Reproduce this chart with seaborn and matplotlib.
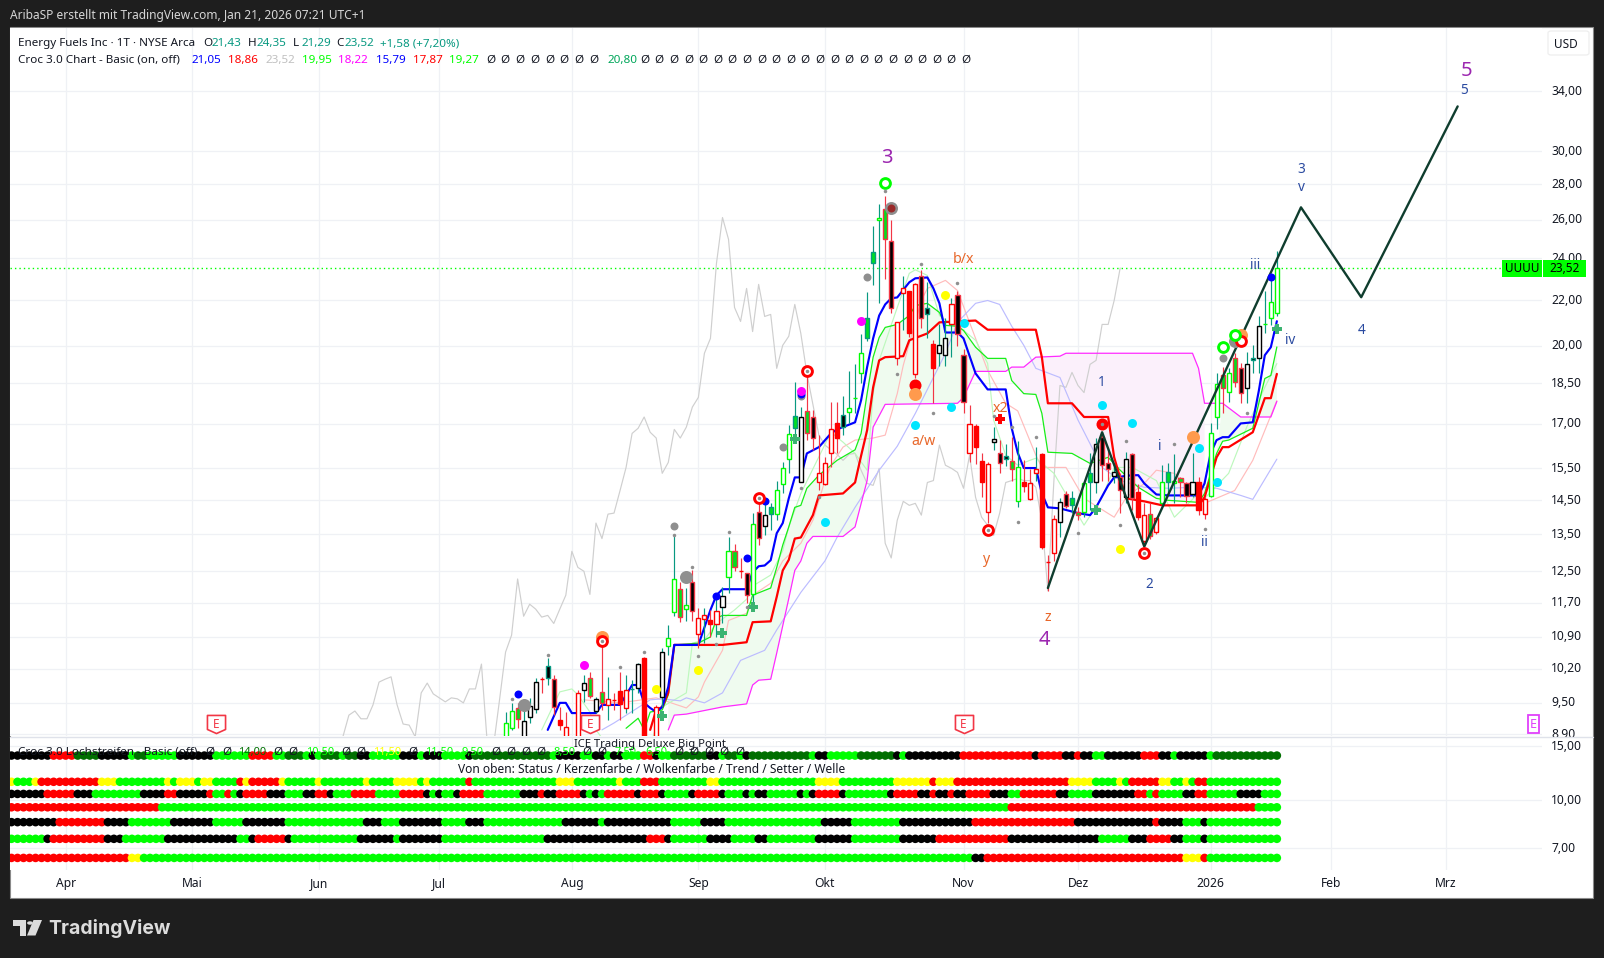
import numpy as np
import pandas as pd
import seaborn as sns
import matplotlib.pyplot as plt
from matplotlib.patches import Rectangle, Polygon, FancyBboxPatch, Circle
from matplotlib.lines import Line2D
from matplotlib.path import Path
from matplotlib.transforms import ScaledTranslation

# --- candles: bar index 0 = 1 Apr 2025 ---
first_bar = 73
body_top = [9.11, 9.34, 9.40, 9.15, 9.44, 9.92, 9.98, 10.26, 9.98, 9.17, 9.04, 8.75, 9.70, 9.90, 10.01, 9.58, 9.72,
            9.58, 9.56, 9.74, 9.76, 9.78, 10.30, 10.43, 8.75, 9.42, 10.56, 10.87, 12.30, 12.04, 11.64, 12.22, 11.33,
            11.40, 11.28, 11.50, 11.87, 13.05, 13.03, 12.50, 12.45, 13.79, 14.15, 14.05, 14.28, 14.82, 15.50, 16.63,
            17.27, 17.24, 17.45, 17.24, 15.33, 15.65, 16.80, 17.01, 17.30, 17.57, 17.95, 19.69, 21.17, 24.30, 26.13,
            26.58, 24.86, 21.00, 22.54, 22.40, 22.73, 23.11, 21.66, 20.06, 20.02, 20.31, 21.80, 22.22, 19.61, 16.98,
            16.91, 15.72, 15.62, 16.46, 15.98, 15.88, 15.72, 15.52, 15.07, 15.01, 15.46, 15.95, 12.75, 13.93, 14.43,
            14.67, 14.55, 14.14, 15.01, 15.33, 16.29, 16.53, 15.65, 15.36, 15.20, 15.79, 15.95, 14.73, 14.05, 14.08,
            13.96, 15.04, 15.36, 15.10, 15.17, 15.01, 15.04, 15.07, 14.52, 16.66, 18.45, 18.80, 18.91, 19.48, 19.08,
            19.24, 19.48, 20.82, 20.91, 21.89, 23.52]
body_bot = [8.80, 9.02, 9.19, 8.80, 9.22, 9.38, 9.98, 10.01, 9.42, 9.07, 8.70, 8.60, 8.80, 9.76, 9.64, 9.34, 9.50,
            9.46, 9.56, 9.48, 9.40, 9.78, 9.80, 8.60, 8.60, 8.80, 9.62, 10.70, 11.48, 11.36, 11.55, 11.50, 10.96,
            11.31, 11.19, 11.19, 11.60, 12.35, 12.60, 12.50, 11.90, 11.91, 13.40, 13.73, 14.08, 14.08, 14.98, 15.80,
            16.84, 15.07, 16.66, 16.50, 15.07, 14.98, 15.98, 16.50, 16.88, 17.42, 17.95, 18.91, 20.31, 23.75, 26.02,
            24.97, 21.66, 19.48, 22.31, 20.56, 18.84, 21.21, 21.35, 19.08, 19.69, 19.61, 20.95, 20.48, 17.77, 15.98,
            16.19, 15.07, 14.14, 16.36, 15.65, 15.80, 15.46, 14.46, 14.92, 14.52, 15.33, 13.15, 12.75, 12.98, 13.85,
            14.31, 14.34, 14.05, 14.14, 15.04, 15.04, 15.59, 15.46, 15.24, 14.82, 14.58, 14.55, 13.99, 13.30, 13.45,
            13.56, 14.40, 15.04, 15.01, 15.07, 14.61, 14.67, 14.20, 14.08, 14.61, 17.24, 18.30, 18.18, 18.53, 18.11,
            18.30, 19.40, 19.48, 20.91, 21.17, 21.43]
wick_high = [9.32, 9.50, 9.50, 9.42, 9.60, 10.00, 10.03, 10.43, 10.07, 9.42, 9.32, 8.80, 9.76, 10.07, 10.13, 9.62,
             10.80, 10.03, 9.70, 10.13, 10.07, 9.96, 10.32, 10.45, 8.80, 9.45, 10.65, 11.17, 13.52, 12.22, 12.07,
             12.52, 11.57, 11.57, 11.52, 11.85, 12.10, 13.42, 13.22, 12.85, 12.45, 14.10, 14.49, 14.40, 14.40, 15.10,
             15.68, 16.95, 18.56, 17.60, 18.88, 17.50, 16.60, 15.85, 17.77, 17.77, 18.03, 18.96, 19.24, 20.48, 22.35,
             25.65, 26.86, 27.31, 26.02, 21.00, 23.11, 22.40, 22.80, 23.40, 22.83, 20.23, 20.91, 21.21, 22.08, 22.40,
             19.85, 17.67, 16.98, 15.98, 15.68, 16.88, 16.43, 16.29, 16.53, 16.39, 15.75, 15.46, 16.19, 16.00, 12.92,
             14.05, 14.55, 14.79, 14.79, 14.28, 15.05, 15.98, 16.50, 16.66, 16.19, 15.52, 15.33, 16.02, 16.00, 15.00,
             14.40, 14.40, 14.00, 15.59, 15.65, 15.95, 15.20, 15.04, 15.98, 15.20, 14.60, 17.01, 18.88, 19.13, 19.09,
             19.69, 19.28, 19.73, 20.02, 21.30, 22.44, 22.92, 24.35]
wick_low = [8.70, 8.98, 9.02, 8.70, 9.11, 9.30, 9.70, 9.86, 9.26, 8.98, 8.60, 8.55, 8.70, 9.52, 9.60, 9.30, 9.36,
            9.17, 9.36, 9.17, 9.30, 9.30, 9.70, 8.55, 8.55, 8.70, 9.42, 10.50, 11.38, 11.24, 11.26, 11.26, 10.65,
            10.76, 10.90, 10.90, 11.21, 11.94, 12.50, 12.33, 11.70, 11.65, 13.20, 13.47, 13.61, 13.90, 14.70, 15.33,
            16.50, 15.04, 16.43, 16.10, 14.80, 14.95, 15.52, 15.98, 16.60, 17.01, 17.37, 18.49, 20.18, 22.68, 21.85,
            22.97, 21.40, 19.20, 20.65, 20.35, 18.70, 20.74, 20.31, 17.74, 19.16, 19.16, 19.53, 19.98, 17.37, 15.68,
            15.62, 14.58, 13.82, 16.10, 15.33, 15.56, 15.10, 14.28, 14.73, 14.49, 15.10, 13.10, 12.00, 12.76, 13.42,
            14.25, 14.11, 13.90, 14.00, 14.20, 14.70, 15.10, 15.10, 15.01, 14.11, 14.40, 14.20, 13.90, 13.19, 13.38,
            13.50, 14.34, 14.70, 14.40, 14.58, 14.40, 14.58, 14.05, 13.95, 14.58, 16.80, 17.37, 17.77, 18.34, 17.74,
            17.74, 18.88, 18.91, 20.52, 20.87, 21.29]
candle_style = ("WWGNNNFTKFRRRNGNGrFFrTNFRRNWWGWKRrFrNWGFKWKNgWW"
                "WgNGKRRRFTWWWggWGKRrFRKTFNNrKKRFFRNKTGWFRrF"
                "FRNKgGWgNKKNKNKFRGRWgWGKNFRWWGWGKNTNWWW")

# --- indicator lines (bar, price) ---
blue_bars = [80, 82, 83, 84, 88, 89, 92, 94, 95, 96, 97, 98, 99, 100, 101, 105, 107, 108, 109, 113, 114, 115, 116, 117,
             118, 119, 120, 121, 122, 123, 125, 127, 128, 131, 132, 133, 134, 135, 136, 137, 138, 140, 141, 143, 144,
             145, 146, 148, 149, 151, 153, 156, 157, 158, 159, 161, 162, 163, 165, 168, 170, 171, 173, 174, 177, 178,
             179, 181, 183, 188, 189, 190, 191, 192, 193, 195, 197, 198, 199, 200, 201]
blue_vals = [8.98, 9.50, 9.50, 9.30, 9.30, 9.46, 9.46, 9.86, 9.86, 9.50, 9.40, 9.32, 9.42, 9.82, 10.72, 10.72, 11.53,
             11.89, 12.04, 12.04, 12.47, 12.63, 12.65, 12.79, 13.53, 13.82, 14.55, 15.20, 15.20, 15.98, 16.19, 16.66,
             16.80, 17.05, 17.85, 19.13, 20.31, 21.30, 21.80, 22.08, 22.12, 22.83, 23.02, 23.06, 22.54, 21.85, 20.56,
             20.56, 20.31, 18.88, 18.26, 18.26, 16.84, 16.00, 15.50, 15.50, 14.70, 14.28, 14.25, 14.11, 14.05, 14.28,
             14.95, 15.20, 15.27, 15.27, 15.01, 14.67, 14.64, 14.64, 15.01, 15.98, 16.43, 16.53, 16.53, 17.01, 17.05,
             18.20, 19.61, 19.94, 21.05]
red_bars = [97, 98, 99, 100, 101, 109, 113, 114, 117, 118, 119, 120, 121, 122, 124, 125, 129, 131, 132, 133, 134, 135,
            136, 139, 140, 143, 145, 151, 153, 161, 162, 163, 167, 169, 173, 174, 176, 179, 182, 188, 189, 191, 192,
            193, 197, 199, 200, 201]
red_vals = [8.98, 9.36, 9.42, 9.70, 10.72, 10.72, 10.78, 11.24, 11.26, 11.85, 12.52, 12.80, 13.38, 13.41, 14.05, 14.64,
            14.70, 15.04, 15.90, 16.77, 18.34, 19.40, 19.53, 19.57, 20.23, 20.52, 21.00, 21.08, 20.68, 20.68, 19.53,
            17.74, 17.74, 17.24, 17.24, 15.85, 14.55, 14.46, 14.34, 14.34, 14.58, 15.85, 16.19, 16.19, 16.70, 17.93,
            17.93, 18.86]
lime_bars = [93, 95, 96, 97, 99, 100, 101, 105, 107, 108, 109, 113, 114, 117, 118, 119, 120, 121, 122, 123, 125, 128,
             131, 132, 133, 134, 135, 136, 138, 140, 141, 143, 145, 146, 148, 149, 151, 153, 156, 157, 159, 161, 162,
             163, 167, 170, 173, 175, 178, 181, 183, 188, 189, 191, 192, 193, 197, 199, 200, 201]
lime_vals = [9.01, 9.20, 8.98, 9.32, 9.36, 9.66, 10.72, 10.76, 10.90, 11.33, 11.40, 11.40, 11.89, 12.07, 12.60, 13.20,
             13.71, 14.28, 14.34, 14.86, 15.27, 15.75, 16.10, 16.66, 18.10, 19.53, 20.35, 20.78, 20.91, 21.30, 21.75,
             21.85, 21.44, 20.87, 20.83, 20.65, 19.94, 19.48, 19.48, 18.60, 18.10, 18.07, 17.37, 16.02, 15.98, 15.65,
             15.85, 15.43, 14.89, 14.55, 14.49, 14.43, 14.70, 15.98, 16.39, 16.43, 16.84, 18.68, 18.80, 19.95]
magenta_bars = [100, 101, 103, 109, 113, 114, 115, 117, 118, 120, 121, 122, 123, 124, 129, 131, 133, 134, 136, 148, 149,
                151, 156, 157, 159, 161, 165, 166, 187, 188, 189, 192, 195, 200, 201]
magenta_vals = [8.98, 9.26, 9.28, 9.42, 9.48, 9.86, 9.96, 9.98, 10.54, 11.81, 12.52, 12.77, 13.25, 13.44, 13.44, 13.71,
                15.10, 16.88, 17.70, 17.74, 17.96, 18.96, 18.96, 19.13, 19.13, 19.53, 19.57, 19.69, 19.69, 19.08, 17.74,
                17.74, 17.24, 17.24, 17.81]
salmon_bars = [86, 92, 98, 103, 105, 106, 109, 110, 113, 114, 117, 119, 122, 124, 126, 127, 129, 131, 134, 136, 138, 139,
               142, 143, 146, 148, 151, 153, 156, 158, 161, 162, 166, 169, 174, 176, 179, 181, 184, 188, 189, 194, 197,
               201]
salmon_vals = [9.56, 9.50, 9.60, 9.40, 9.62, 9.92, 10.60, 11.28, 11.45, 11.89, 12.19, 12.77, 13.25, 13.90, 15.10, 15.59,
               16.19, 16.43, 16.50, 16.60, 18.10, 19.20, 21.98, 22.54, 22.92, 22.44, 20.31, 19.00, 17.74, 17.46, 15.92,
               15.52, 15.52, 14.55, 13.99, 14.58, 15.01, 15.43, 15.33, 14.58, 14.40, 14.79, 15.75, 17.84]
palelime_bars = [79, 82, 84, 85, 87, 88, 90, 97, 99, 103, 104, 106, 108, 111, 113, 114, 117, 119, 120, 122, 127, 129, 131,
                 133, 134, 135, 138, 140, 141, 143, 145, 147, 148, 151, 153, 154, 156, 158, 160, 161, 164, 169, 172, 174,
                 177, 181, 184, 188, 189, 193, 196, 199, 201]
palelime_vals = [8.98, 9.72, 9.78, 9.66, 9.32, 8.98, 8.68, 8.68, 9.42, 9.70, 10.76, 10.83, 11.21, 11.53, 11.79, 12.12,
                 12.40, 13.05, 13.71, 14.70, 16.70, 16.36, 15.98, 15.43, 18.10, 19.40, 21.66, 23.26, 23.43, 23.16, 21.30,
                 20.91, 20.87, 20.23, 19.28, 17.13, 15.92, 15.59, 15.75, 15.82, 15.33, 13.76, 14.58, 15.52, 15.52, 15.10,
                 13.99, 14.70, 14.55, 15.33, 16.88, 18.34, 19.27]
paleblue_bars = [89, 91, 97, 99, 102, 103, 106, 109, 112, 116, 118, 122, 126, 128, 131, 135, 138, 141, 144, 146, 148, 151,
                 153, 155, 157, 159, 161, 165, 168, 172, 175, 179, 183, 187, 191, 195, 197, 201]
paleblue_vals = [8.98, 9.11, 9.56, 9.58, 9.54, 9.60, 9.50, 9.70, 10.38, 10.60, 11.06, 11.96, 12.77, 13.41, 14.28, 15.43,
                 16.22, 17.37, 18.72, 19.69, 21.00, 21.85, 21.98, 21.80, 20.83, 20.02, 19.08, 18.72, 17.13, 15.52, 15.10,
                 14.89, 14.86, 14.89, 14.86, 14.64, 14.52, 15.79]
grey_bars = list(range(46, 176))
grey_vals = [8.85, 9.26, 9.34, 9.19, 9.19, 9.46, 9.92, 9.98, 10.03, 9.46, 9.09, 9.07, 8.85, 9.70, 9.90, 9.68, 9.60, 9.52,
             9.60, 9.58, 9.50, 9.78, 9.78, 10.30, 8.68, 8.68, 9.56, 10.56, 10.94, 12.30, 11.38, 11.67, 11.55, 11.36, 11.40,
             11.21, 11.55, 11.89, 13.03, 12.60, 12.50, 11.91, 13.82, 13.38, 14.08, 14.11, 14.79, 15.52, 16.66, 16.84,
             17.24, 16.70, 16.50, 15.33, 15.68, 16.80, 16.50, 16.88, 17.60, 17.96, 19.69, 20.31, 23.75, 26.13, 24.97,
             21.66, 21.04, 22.54, 20.60, 22.73, 21.26, 21.35, 19.08, 20.02, 20.40, 21.80, 20.52, 18.88, 17.70, 16.60,
             16.26, 16.10, 15.95, 15.75, 15.95, 15.98, 15.43, 15.01, 14.95, 15.49, 13.25, 12.85, 13.90, 14.46, 14.34,
             14.40, 14.05, 15.04, 15.10, 16.26, 15.59, 15.49, 15.36, 14.86, 15.92, 14.58, 13.99, 13.76, 13.47, 14.11,
             15.04, 15.10, 15.17, 15.10, 15.10, 14.89, 13.90, 12.00, 15.10, 18.41, 18.34, 18.92, 18.41, 18.14, 19.24,
             19.40, 20.91, 20.91, 21.98, 23.52]
wave_bars = [163, 172, 179, 205, 215, 231]
wave_vals = [12.07, 16.70, 13.16, 26.69, 22.13, 32.94]
last_price = 23.52

# --- signal dots (bar, price) ---
cyan_bars, cyan_vals = [126, 141, 147, 149, 172, 177, 188, 191], [13.85, 16.95, 17.60, 20.98, 17.67, 17.01, 16.16, 15.04]
yellow_bars, yellow_vals = [98, 105, 146, 175], [9.78, 10.17, 22.22, 13.10]
blue_dot_bars, blue_dot_vals = [75, 108, 113, 116, 122, 200], [9.68, 11.87, 12.84, 14.46, 18.10, 23.07]
magenta_dot_bars, magenta_dot_vals = [86, 132, 122], [10.28, 21.08, 18.20]
grey_big_bars, grey_big_vals = [76, 103, 137, 194], [9.46, 12.34, 26.63, 20.18]
grey_mid_bars, grey_mid_vals = [101, 119, 133, 122, 192], [13.73, 16.19, 23.06, 18.03, 19.48]
orange_bars, orange_vals = [89, 141, 187, 195], [10.90, 18.10, 16.53, 20.44]
red_solid_bars, red_solid_vals = [172, 141], [16.98, 18.41]
red_ring_bars, red_ring_vals = [89, 115, 123, 153, 179, 195], [10.80, 14.55, 18.96, 13.63, 12.98, 20.20]
lime_ring_bars, lime_ring_vals = [136, 192, 194], [28.10, 19.94, 20.44]
plus_bars, plus_vals = [99, 109, 114, 121, 171, 201], [9.24, 10.98, 11.60, 16.46, 14.21, 20.70]
redplus_bars, redplus_vals = [155], [17.17]
small_bars = [74, 80, 92, 96, 101, 104, 105, 108, 110, 113, 122, 125, 136, 138, 142, 144, 148, 154, 158, 161, 157, 168, 175,
              176, 184, 189, 196, 89, 115, 123, 153, 179, 172]
small_vals = [9.58, 10.50, 10.24, 10.56, 13.47, 12.60, 10.48, 10.74, 13.56, 11.60, 14.86, 14.58, 27.60, 18.84, 23.70, 17.37,
              22.78, 17.27, 13.85, 16.53, 16.88, 13.53, 13.76, 16.39, 16.29, 13.65, 17.37, 10.80, 14.55, 18.96, 13.63,
              12.98, 16.98]

# --- wave labels ---
navy_labels = ["5", "3", "v", "4", "iii", "iv", "1", "2", "i", "ii"]
navy_bars = [232, 205, 205, 215, 197.4, 203.2, 172, 179.8, 181.6, 188.9]
navy_vals = [34.13, 29.00, 27.90, 20.70, 23.70, 20.30, 18.60, 12.20, 16.26, 13.30]
orange_labels = ["b/x", "a/w", "x2", "y", "z"]
orange_lab_bars = [149, 142.4, 155.2, 152.7, 163]
orange_lab_vals = [24.00, 16.43, 17.60, 12.84, 11.38]
purple_labels = ["3", "5", "4"]
purple_bars = [136.3, 232.4, 162.4]
purple_vals = [29.68, 35.58, 10.87]
earnings_bars = [25, 87, 149]
earnings_level = 9.09

# --- lower pane: (colour, last bar of the run), level from the legend ---
status_runs = [("y", -9), ("g", -6), ("y", -5), ("r", 5), ("y", 8), ("g", 16), ("y", 17), ("g", 18), ("y", 21), ("g", 22),
               ("y", 24), ("g", 28), ("r", 29), ("y", 30), ("r", 35), ("y", 36), ("g", 41), ("y", 42), ("g", 49), ("y", 50),
               ("g", 54), ("y", 58), ("g", 59), ("y", 60), ("g", 66), ("r", 67), ("g", 81), ("y", 84), ("g", 91), ("y", 92),
               ("g", 95), ("r", 98), ("g", 106), ("y", 108), ("g", 124), ("y", 128), ("g", 137), ("y", 143), ("r", 144),
               ("y", 147), ("r", 166), ("y", 170), ("g", 174), ("y", 175), ("g", 176), ("r", 181), ("y", 183), ("g", 185),
               ("y", 186), ("g", 187), ("r", 189), ("g", 201)]
candle_runs = [("k", -4), ("r", 1), ("k", 4), ("g", 12), ("k", 16), ("r", 18), ("k", 23), ("r", 24), ("g", 26), ("r", 27),
               ("g", 28), ("k", 29), ("r", 33), ("k", 36), ("g", 39), ("k", 41), ("r", 43), ("k", 44), ("g", 47), ("r", 51),
               ("g", 55), ("r", 59), ("k", 60), ("g", 61), ("k", 62), ("g", 64), ("k", 65), ("r", 69), ("g", 75), ("k", 78),
               ("r", 79), ("k", 81), ("r", 85), ("k", 86), ("g", 87), ("k", 88), ("g", 89), ("r", 94), ("k", 95), ("r", 98),
               ("k", 99), ("g", 103), ("k", 104), ("r", 108), ("k", 109), ("g", 112), ("k", 113), ("g", 114), ("k", 116),
               ("g", 121), ("k", 122), ("g", 123), ("k", 124), ("r", 128), ("k", 129), ("g", 136), ("k", 137), ("r", 141),
               ("k", 143), ("r", 144), ("k", 146), ("r", 147), ("k", 149), ("r", 153), ("k", 156), ("g", 158), ("r", 164),
               ("k", 166), ("g", 170), ("k", 177), ("r", 179), ("g", 180), ("r", 181), ("g", 185), ("k", 187), ("r", 189),
               ("g", 194), ("k", 198), ("g", 201)]
cloud_runs = [("r", 15), ("g", 156), ("r", 197), ("g", 201)]
trend_runs = [("k", -2), ("r", 6), ("k", 10), ("g", 17), ("k", 24), ("g", 29), ("k", 36), ("g", 49), ("k", 52), ("g", 55),
              ("k", 62), ("g", 66), ("k", 69), ("g", 82), ("k", 88), ("g", 89), ("k", 100), ("g", 105), ("k", 109),
              ("g", 125), ("k", 130), ("g", 138), ("k", 150), ("r", 167), ("k", 180), ("r", 181), ("k", 185), ("g", 188),
              ("k", 189), ("g", 201)]
setter_runs = [("g", -4), ("k", -3), ("r", 6), ("k", 9), ("g", 16), ("k", 28), ("g", 30), ("k", 31), ("r", 36), ("k", 37),
               ("g", 48), ("k", 54), ("g", 55), ("k", 62), ("g", 79), ("k", 96), ("r", 99), ("k", 100), ("g", 106),
               ("k", 110), ("g", 114), ("k", 116), ("g", 124), ("k", 130), ("g", 138), ("k", 144), ("r", 156), ("k", 171),
               ("g", 176), ("k", 179), ("r", 183), ("k", 185), ("g", 188), ("k", 189), ("g", 201)]
welle_runs = [("r", 10), ("y", 12), ("g", 150), ("k", 152), ("r", 185), ("y", 188), ("r", 189), ("g", 201)]
top_runs = [("k", -3), ("r", 1), ("d", 5), ("k", 10), ("g", 11), ("d", 13), ("g", 18), ("k", 24), ("g", 30), ("r", 34),
            ("g", 36), ("d", 39), ("g", 40), ("k", 41), ("g", 42), ("d", 45), ("g", 46), ("d", 48), ("k", 50), ("g", 55),
            ("k", 58), ("g", 59), ("k", 62), ("g", 66), ("k", 67), ("d", 80), ("g", 81), ("k", 85), ("g", 87), ("k", 89),
            ("g", 90), ("k", 92), ("g", 95), ("r", 97), ("k", 98), ("g", 100), ("d", 106), ("k", 108), ("g", 109),
            ("d", 111), ("g", 112), ("k", 113), ("d", 123), ("g", 124), ("k", 126), ("g", 131), ("d", 137), ("k", 138),
            ("g", 139), ("k", 148), ("r", 160), ("k", 161), ("r", 165), ("k", 167), ("r", 168), ("k", 170), ("g", 172),
            ("k", 178), ("r", 181), ("k", 183), ("g", 184), ("k", 189), ("g", 190), ("d", 201)]
row_levels = [14.0, 11.5, 10.5, 9.5, 8.5, 7.5, 6.5]
row_runs = [top_runs, status_runs, candle_runs, cloud_runs, trend_runs, setter_runs, welle_runs]

# --- axes ticks ---
month_bars = [0, 21, 42, 62, 84, 105, 126, 149, 168, 190, 210, 229]
month_labels = ["Apr", "Mai", "Jun", "Jul", "Aug", "Sep", "Okt", "Nov", "Dez", "2026", "Feb", "Mrz"]
price_ticks = [34, 30, 28, 26, 24, 22, 20, 18.5, 17, 15.5, 14.5, 13.5, 12.5, 11.7, 10.9, 10.2, 9.5, 8.9]
lower_ticks = [15, 10, 7]

W, H = 1604, 958
FONT = ["Noto Sans", "DejaVu Sans"]
INK = "#131722"
GRID = "#eff1f5"

sns.set_theme(style="white")
plt.rcParams["font.family"] = FONT


def fx(px):
    return px / W


def fy(py):
    return 1 - py / H


def add_axes(left, top, right, bottom, **kw):
    return fig.add_axes([fx(left), fy(bottom), (right - left) / W, (bottom - top) / H], **kw)


def ptext(px, py, s, color=INK, size=8.5, **kw):
    kw.setdefault("va", "center")
    fig.text(fx(px), fy(py), s, color=color, fontsize=size, zorder=6, **kw)


def draw_line(bars, vals, color, lw, zorder):
    sns.lineplot(x=bars, y=vals, color=color, linewidth=lw, estimator=None, errorbar=None, sort=False, ax=ax, zorder=zorder)


def dots(bars, vals, color, px, zorder=7, marker="o"):
    size = (px * 0.72) ** 2
    sns.scatterplot(x=bars, y=vals, color=color, s=size, marker=marker, linewidth=0, legend=False, ax=ax, zorder=zorder)


def rings(bars, vals, color):
    sns.scatterplot(x=bars, y=vals, s=50, color="white", edgecolor=color, linewidth=2.1, legend=False, ax=ax, zorder=8)


def nudge_up(labels, px):
    for lab in labels:
        lab.set_transform(lab.get_transform() + ScaledTranslation(0, px / 100, fig.dpi_scale_trans))


fig = plt.figure(figsize=(W / 100, H / 100), dpi=100, facecolor="#1e1e1e")
fig.add_artist(Rectangle((fx(10), fy(897.5)), 1583 / W, 870.5 / H, transform=fig.transFigure, fc="white", ec="#8a8a8a",
                         lw=0.8, zorder=-1))

ax = add_axes(10, 27.5, 1542, 736, zorder=0)
low = add_axes(10, 736.5, 1542, 869.5, zorder=2)
fig.add_artist(Rectangle((fx(1542), fy(870)), 50.5 / W, 133.5 / H, transform=fig.transFigure, fc="white", ec="none", zorder=1))

ax.set_yscale("log")
low.set_yscale("log")

# clouds between the lime and magenta lines
lime_b, lime_v = np.array(lime_bars), np.array(lime_vals)
mag_b, mag_v = np.array(magenta_bars), np.array(magenta_vals)
for start, end, shade in [(100, 156, "#effbef"), (157, 190, "#fbf0fb"), (191, 201, "#effbef")]:
    m1 = (lime_b >= start) & (lime_b <= end)
    m2 = (mag_b >= start) & (mag_b <= end)
    ax.fill(np.r_[lime_b[m1], mag_b[m2][::-1]], np.r_[lime_v[m1], mag_v[m2][::-1]], color=shade, lw=0, zorder=1)

draw_line(grey_bars, grey_vals, "#cfcfcf", 0.85, 2)
draw_line(salmon_bars, salmon_vals, "#ffbcbc", 0.85, 2)
draw_line(palelime_bars, palelime_vals, "#bdf8bd", 0.85, 2)
draw_line(paleblue_bars, paleblue_vals, "#bcbcff", 0.85, 2)
draw_line(magenta_bars, magenta_vals, "#ff2bff", 0.9, 3)
draw_line(lime_bars, lime_vals, "#18ee18", 0.9, 3)
draw_line(red_bars, red_vals, "#ff0000", 1.6, 3)
draw_line(blue_bars, blue_vals, "#0000ff", 1.55, 3)

# candles
styles = {
    "W": ("white", "#00ff00", "#089981"),
    "N": ("white", "black", "#089981"),
    "R": ("white", "#ff0000", "#f23645"),
    "r": ("white", "#ff0000", "#089981"),
    "G": ("#00e020", "#f23645", "#f23645"),
    "g": ("#00e020", "#089981", "#089981"),
    "K": ("black", "#f23645", "#f23645"),
    "T": ("black", "#089981", "#089981"),
    "F": ("#ff0000", "#ff0000", "#f23645"),
}
candles = pd.DataFrame({"bar": first_bar + np.arange(len(body_top)), "top": body_top, "bot": body_bot,
                        "high": wick_high, "low": wick_low, "style": list(candle_style)})
for code, group in candles.groupby("style"):
    fill, edge, wick = styles[code]
    ax.vlines(group["bar"], group["low"], group["high"], color=wick, lw=0.85, zorder=4)
    ax.bar(group["bar"], group["top"] - group["bot"], bottom=group["bot"], width=0.68, color=fill, edgecolor=edge,
           linewidth=1.0, zorder=4.5)

ax.axhline(last_price, color="#00ff00", lw=1.0, ls=(0, (1, 2.2)), zorder=3.5)
draw_line(wave_bars, wave_vals, "#0f3d2e", 1.7, 5)

# signal dots
dots(grey_big_bars, grey_big_vals, "#8f8f8f", 13)
dots([137], [26.63], "#9a2a2a", 8)
dots(grey_mid_bars, grey_mid_vals, "#8f8f8f", 8)
dots(blue_dot_bars, blue_dot_vals, "#0000ff", 8)
dots(magenta_dot_bars, magenta_dot_vals, "#ff00ff", 9)
dots(yellow_bars, yellow_vals, "#ffff00", 9)
dots(cyan_bars, cyan_vals, "#00e5ff", 9)
dots(red_solid_bars, red_solid_vals, "#ff0000", 12)
dots(orange_bars, orange_vals, "#ff9a4d", 13)
rings(red_ring_bars, red_ring_vals, "#ff0000")
rings(lime_ring_bars, lime_ring_vals, "#00ff00")
dots(plus_bars, plus_vals, "#3cb371", 10, marker="P")
dots(redplus_bars, redplus_vals, "#ff0000", 10, marker="P")
dots(small_bars, small_vals, "#8f8f8f", 3.5, zorder=9)

text_shift = ax.transData + ScaledTranslation(0, -0.015, fig.dpi_scale_trans)
for labels, bars, vals, color, size in [(navy_labels, navy_bars, navy_vals, "#2a4aa0", 9.8),
                                        (orange_labels, orange_lab_bars, orange_lab_vals, "#e8672a", 10.2),
                                        (purple_labels, purple_bars, purple_vals, "#9c27b0", 14.5)]:
    for label, bar, val in zip(labels, bars, vals):
        ax.text(bar, val, label, color=color, fontsize=size, ha="center", va="center", zorder=10, transform=text_shift)

# earnings shields
shield = Path([(-1, 1), (1, 1), (1, -0.55), (0, -1), (-1, -0.55), (-1, 1)], closed=True)
for bar in earnings_bars:
    ax.scatter([bar], [earnings_level], s=170, marker=shield, fc="white", ec="#f23645", lw=1.2, zorder=9, clip_on=False)
    ax.text(bar, earnings_level, "E", color="#f23645", fontsize=8.5, ha="center", va="center", zorder=10)
ax.text(243.6, earnings_level, "E", color="#e040fb", fontsize=9, ha="center", va="center", zorder=10,
        bbox=dict(boxstyle="square,pad=0.18", fc="white", ec="#e040fb", lw=1.3))

ax.set_xlim(-9.24, 245)
ax.set_ylim(8.866, 38.83)
ax.minorticks_off()
ax.set_yticks(price_ticks)
ax.set_yticklabels([f"{p:.2f}".replace(".", ",") for p in price_ticks])
ax.yaxis.tick_right()
ax.set_xticks(month_bars)
ax.set_xticklabels([])
ax.tick_params(axis="both", length=0, labelsize=8.7, labelcolor=INK, pad=6.5)
ax.grid(True, color=GRID, lw=0.9)
ax.set_axisbelow(True)
ax.set_xlabel("")
ax.set_ylabel("")
for s in ax.spines.values():
    s.set_visible(False)
nudge_up(ax.get_yticklabels(), 1.5)

# lower pane
records = []
for level, runs in zip(row_levels, row_runs):
    bar = -9
    for code, last in runs:
        for b in range(bar, last + 1):
            records.append((b, level, code))
        bar = last + 1
rows = pd.DataFrame(records, columns=["bar", "level", "state"])
sns.scatterplot(data=rows, x="bar", y="level", hue="state", s=38, linewidth=0, legend=False, ax=low, zorder=3,
                palette={"g": "#00ff00", "r": "#ff0000", "y": "#ffff00", "k": "#000000", "d": "#006f00"})

low.set_xlim(-9.24, 245)
low.set_ylim(5.96, 16.15)
low.minorticks_off()
low.set_yticks(lower_ticks)
low.set_yticklabels([f"{p:.2f}".replace(".", ",") for p in lower_ticks])
low.yaxis.tick_right()
low.set_xticks(month_bars)
low.set_xticklabels(month_labels)
low.tick_params(axis="both", length=0, labelsize=8.7, labelcolor=INK)
low.tick_params(axis="y", pad=6.5)
low.tick_params(axis="x", pad=5.5)
low.grid(True, color=GRID, lw=0.9)
low.set_axisbelow(True)
low.set_xlabel("")
low.set_ylabel("")
low.get_xticklabels()[9].set_fontweight("bold")
for s in low.spines.values():
    s.set_visible(False)
nudge_up(low.get_yticklabels(), 1.5)

fig.add_artist(Line2D([fx(10), fx(1593)], [fy(736.5), fy(736.5)], color="#dfe2ea", lw=1.0, transform=fig.transFigure, zorder=3))

# header and legend
ptext(10, 15, "AribaSP erstellt mit TradingView.com, Jan 21, 2026 07:21 UTC+1", color="#d6d6d6", size=8.6)
ptext(18, 43.5, "Energy Fuels Inc · 1T · NYSE Arca", size=8.4)
teal = "#089981"
for px, letter, value in [(203, "O", "21,43"), (248, "H", "24,35"), (293, "L", "21,29"), (336, "C", "23,52")]:
    ptext(px, 43.5, letter, size=8.4)
    ptext(px + 8.5, 43.5, value, color=teal, size=8.4)
ptext(380, 43.5, "+1,58 (+7,20%)", color=teal, size=8.4)
ptext(18, 60, "Croc 3.0 Chart - Basic (on, off)", size=8.4)
for px, value, color in [(191, "21,05", "#0000ff"), (228, "18,86", "#ff0000"), (265, "23,52", "#c0c0c0"),
                         (302, "19,95", "#00ff00"), (338, "18,22", "#ff00ff"), (376, "15,79", "#0000ff"),
                         (413, "17,87", "#ff0000"), (449, "19,27", "#00ff00"), (607, "20,80", "#00a65a")]:
    ptext(px, 60, value, color=color, size=8.4)
for k in range(8):
    ptext(486 + 14.7 * k, 60, "Ø", size=8.4)
for k in range(23):
    ptext(640 + 14.6 * k, 60, "Ø", size=8.4)

# lower pane legend
ptext(18, 752, "Croc 3.0 Lochstreifen - Basic (off)", size=8.4)
for px in [210, 227, 278, 293, 346, 361, 413, 496, 511, 526, 541, 587, 602, 679, 694, 709, 724, 740]:
    ptext(px, 752, "Ø", ha="center", size=8.4)
for px, value, color in [(238, "14,00", "#006f00"), (306, "10,50", "#00ff00"), (373, "11,50", "#ffff00"),
                         (425, "11,50", "#00ff00"), (462, "9,50", "#00ff00"), (553, "8,50", "#00ff00"),
                         (615, "7,50", "#00ff00"), (645, "6,50", "#00ff00")]:
    ptext(px, 752, value, color=color, size=8.0)
ptext(650, 744.5, "ICE Trading Deluxe Big Point", ha="center", size=8.1)
ptext(458, 769.5, "Von oben: Status / Kerzenfarbe / Wolkenfarbe / Trend / Setter / Welle", size=8.6)

# price tags and currency button
fig.add_artist(Rectangle((fx(1502), fy(276.5)), 40 / W, 16.5 / H, transform=fig.transFigure, fc="#00ff00", ec="none", zorder=5))
fig.add_artist(Rectangle((fx(1543), fy(276.5)), 43 / W, 16.5 / H, transform=fig.transFigure, fc="#00ff00", ec="none", zorder=5))
ptext(1522, 268.5, "UUUU", ha="center", color="black")
ptext(1565, 268.5, "23,52", ha="center", color="black")
fig.add_artist(FancyBboxPatch((fx(1548), fy(55)), 41 / W, 24 / H, boxstyle="round,pad=0,rounding_size=0.002",
                              transform=fig.transFigure, fc="white", ec="#eeeeee", lw=0.9, zorder=5))
ptext(1565.5, 44.5, "USD", ha="center")

# logo
logo = "#dcdcdc"
fig.add_artist(Polygon([(fx(a), fy(b)) for a, b in [(12.5, 920), (26, 920), (26, 935.5), (19.5, 935.5), (19.5, 925.5), (12.5, 925.5)]],
                       transform=fig.transFigure, fc=logo, ec="none", zorder=5))
fig.add_artist(Polygon([(fx(a), fy(b)) for a, b in [(33.5, 920), (42, 920), (35.5, 935.5), (27, 935.5)]],
                       transform=fig.transFigure, fc=logo, ec="none", zorder=5))
fig.add_artist(Circle((fx(30), fy(923)), 2.9 / W, transform=fig.transFigure, fc=logo, ec="none", zorder=5))
fig.text(fx(48.5), fy(928), "TradingView", color=logo, fontsize=14, fontweight="bold", family="Inter", va="center", zorder=6)

fig.savefig("out.png", dpi=100, facecolor=fig.get_facecolor())
